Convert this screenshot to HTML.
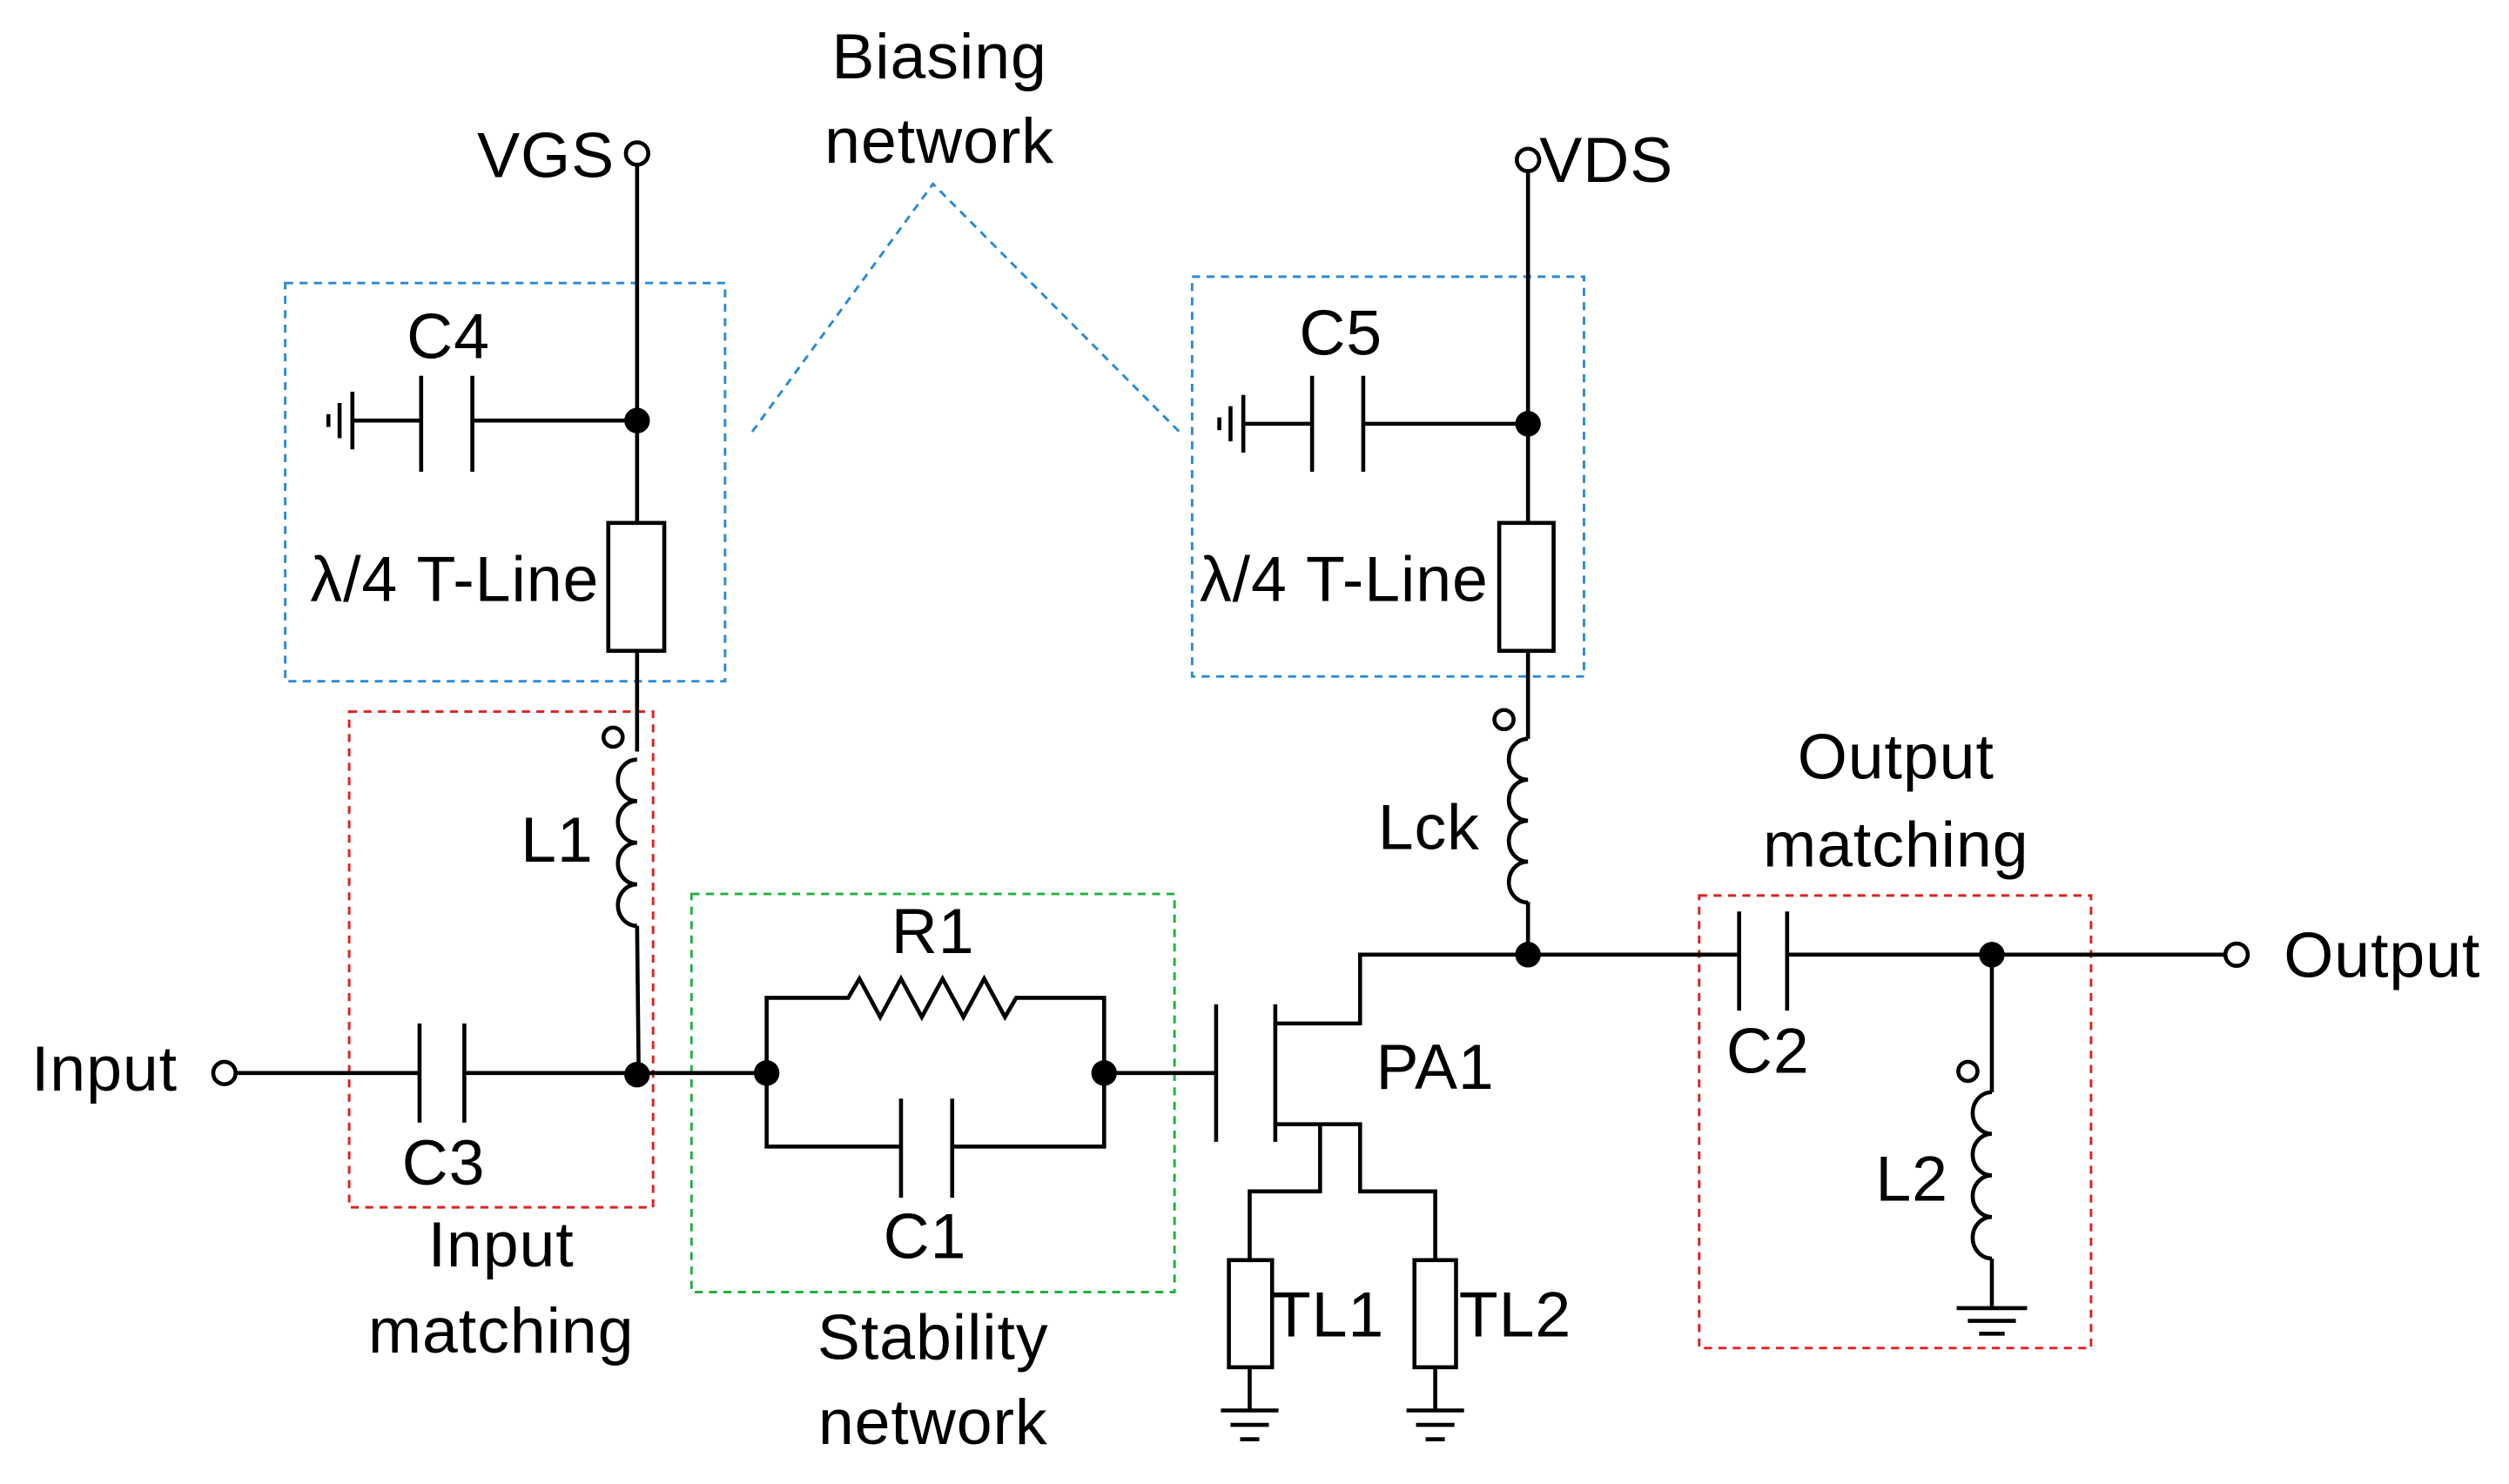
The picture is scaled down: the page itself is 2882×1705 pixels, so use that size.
<!DOCTYPE html>
<html><head><meta charset="utf-8"><style>html,body{margin:0;padding:0;background:#fff}svg{display:block}</style></head>
<body>
<svg width="2882" height="1705" viewBox="0 0 1568 928" xmlns="http://www.w3.org/2000/svg" font-family="Liberation Sans, sans-serif" font-size="40" letter-spacing="0.5">
<rect width="1568" height="928" fill="#fff"/>
<g fill="none" stroke-dasharray="5,4" stroke-width="1.6">
<rect x="178" y="177" width="275" height="249" stroke="#2a8ad6"/>
<rect x="745" y="173" width="245" height="250" stroke="#2a8ad6"/>
<polyline points="470,270 583,115 737,270" stroke="#2a8ad6"/>
<rect x="218" y="445" width="190" height="310" stroke="#e02020"/>
<rect x="1062" y="560" width="245" height="283" stroke="#e02020"/>
<rect x="432" y="559" width="302" height="249" stroke="#22b040"/>
</g>
<g stroke="#000" stroke-width="2.5" fill="none">
<circle cx="398" cy="96" r="7"/>
<line x1="398" y1="103" x2="398" y2="327"/>
<rect x="380" y="327" width="35" height="80"/>
<line x1="398" y1="263" x2="295" y2="263"/>
<line x1="295" y1="235" x2="295" y2="295"/><line x1="263" y1="235" x2="263" y2="295"/>
<line x1="263" y1="263" x2="220" y2="263"/>
<line x1="220" y1="245" x2="220" y2="281"/><line x1="212" y1="252" x2="212" y2="274"/><line x1="205" y1="259" x2="205" y2="267"/>
<line x1="398" y1="407" x2="398" y2="470"/>
<circle cx="383" cy="461" r="6"/>
<path d="M398,475 a12,13 0 0,0 0,26 a12,13 0 0,0 0,26 a12,13 0 0,0 0,26 a12,13 0 0,0 0,26"/>
<line x1="398" y1="579" x2="399" y2="672"/>
<circle cx="955" cy="100" r="7"/>
<line x1="955" y1="107" x2="955" y2="327"/>
<rect x="937" y="327" width="34" height="80"/>
<line x1="955" y1="265" x2="852" y2="265"/>
<line x1="852" y1="235" x2="852" y2="295"/><line x1="820" y1="235" x2="820" y2="295"/>
<line x1="820" y1="265" x2="777" y2="265"/>
<line x1="777" y1="247" x2="777" y2="283"/><line x1="769" y1="254" x2="769" y2="276"/><line x1="762" y1="261" x2="762" y2="269"/>
<line x1="955" y1="407" x2="955" y2="462"/>
<circle cx="940" cy="450" r="6"/>
<path d="M955,462 a12,12.8 0 0,0 0,25.6 a12,12.8 0 0,0 0,25.6 a12,12.8 0 0,0 0,25.6 a12,12.8 0 0,0 0,25.6"/>
<line x1="955" y1="564" x2="955" y2="597"/>
<circle cx="140" cy="671" r="7"/>
<line x1="147" y1="671" x2="262" y2="671"/>
<line x1="262" y1="640" x2="262" y2="702"/><line x1="290" y1="640" x2="290" y2="702"/>
<line x1="290" y1="671" x2="479" y2="671"/>
<polyline points="479,671 479,624 530,624 537,612 550,636 563,612 576,636 589,612 602,636 615,612 628,636 635,624 690,624 690,671"/>
<polyline points="479,671 479,717 563,717"/>
<line x1="563" y1="687" x2="563" y2="749"/><line x1="595" y1="687" x2="595" y2="749"/>
<polyline points="595,717 690,717 690,671"/>
<line x1="690" y1="671" x2="760" y2="671"/>
<line x1="760" y1="628" x2="760" y2="714"/>
<line x1="797" y1="628" x2="797" y2="714"/>
<polyline points="797,640 850,640 850,597 1087,597"/>
<polyline points="797,703 850,703 850,745 897,745 897,788"/>
<polyline points="825,703 825,745 781,745 781,788"/>
<rect x="768" y="788" width="27" height="67"/>
<rect x="884" y="788" width="26" height="67"/>
<line x1="781" y1="855" x2="781" y2="882"/>
<line x1="763" y1="882" x2="799" y2="882"/><line x1="769" y1="891" x2="793" y2="891"/><line x1="775" y1="900" x2="787" y2="900"/>
<line x1="897" y1="855" x2="897" y2="882"/>
<line x1="879" y1="882" x2="915" y2="882"/><line x1="885" y1="891" x2="909" y2="891"/><line x1="891" y1="900" x2="903" y2="900"/>
<line x1="1087" y1="570" x2="1087" y2="632"/><line x1="1117" y1="570" x2="1117" y2="632"/>
<line x1="1117" y1="597" x2="1390" y2="597"/>
<circle cx="1398" cy="597" r="7"/>
<line x1="1245" y1="597" x2="1245" y2="683"/>
<circle cx="1230" cy="670" r="6"/>
<path d="M1245,683 a12,13 0 0,0 0,26 a12,13 0 0,0 0,26 a12,13 0 0,0 0,26 a12,13 0 0,0 0,26"/>
<line x1="1245" y1="787" x2="1245" y2="818"/>
<line x1="1223" y1="818" x2="1267" y2="818"/><line x1="1230" y1="826" x2="1260" y2="826"/><line x1="1237" y1="834" x2="1253" y2="834"/>
</g>
<g fill="#000">
<circle cx="398" cy="263" r="8"/><circle cx="955" cy="265" r="8"/>
<circle cx="398" cy="672" r="8"/><circle cx="479" cy="671" r="8"/><circle cx="690" cy="671" r="8"/>
<circle cx="955" cy="597" r="8"/><circle cx="1245" cy="597" r="8"/>
</g>
<g fill="#000" text-anchor="middle" dominant-baseline="central">
<text x="587" y="35">Biasing</text><text x="587" y="88">network</text>
<text x="341" y="97">VGS</text><text x="1004" y="100">VDS</text>
<text x="280" y="210">C4</text><text x="838" y="208">C5</text>
<text x="284" y="362">λ/4 T-Line</text><text x="840" y="362">λ/4 T-Line</text>
<text x="348" y="525">L1</text><text x="893" y="517">Lck</text>
<text x="65" y="668">Input</text><text x="277" y="727">C3</text>
<text x="313" y="778">Input</text><text x="313" y="832">matching</text>
<text x="583" y="582">R1</text><text x="578" y="773">C1</text>
<text x="583" y="836">Stability</text><text x="583" y="889">network</text>
<text x="897" y="667">PA1</text>
<text x="830" y="822">TL1</text><text x="947" y="822">TL2</text>
<text x="1185" y="473">Output</text><text x="1185" y="528">matching</text>
<text x="1105" y="657">C2</text><text x="1195" y="737">L2</text>
<text x="1489" y="597">Output</text>
</g>
</svg>
</body></html>
